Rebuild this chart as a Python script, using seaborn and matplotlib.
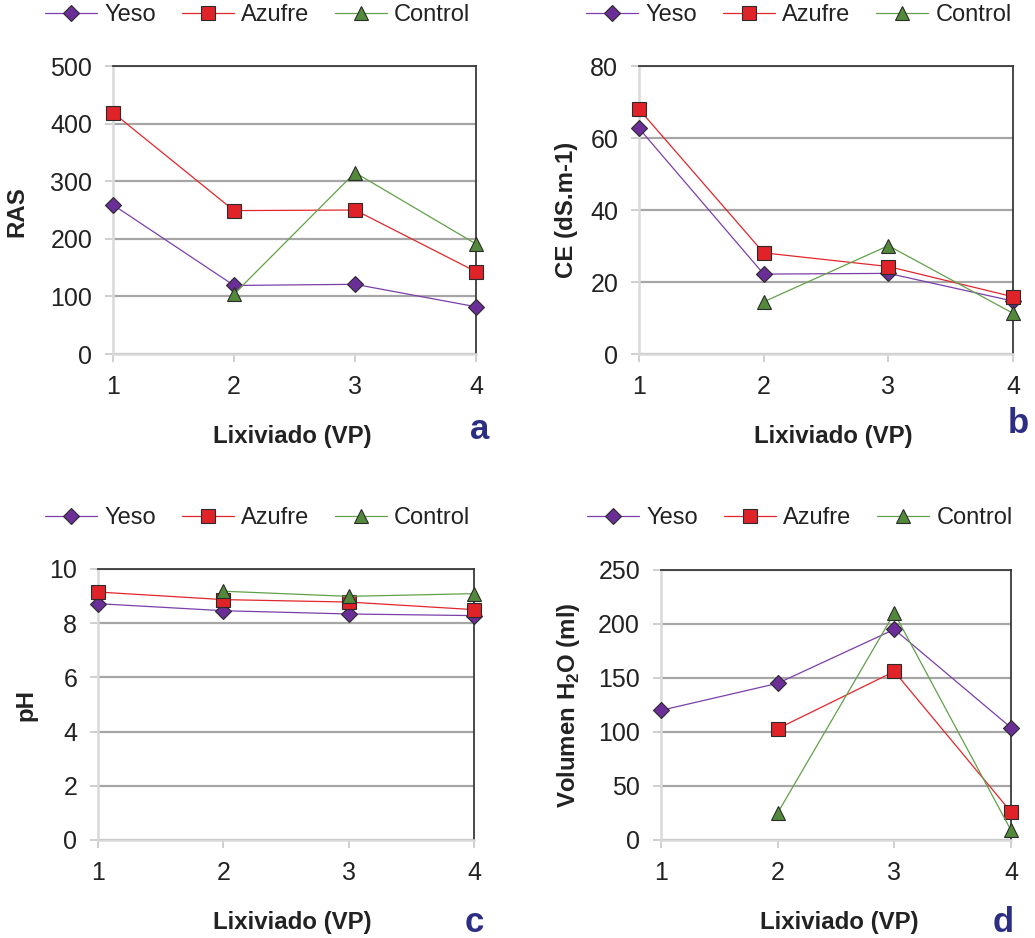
import numpy as np
import pandas as pd
import matplotlib
matplotlib.use('Agg')
import matplotlib.pyplot as plt
import seaborn as sns


# Data
lixiviado = [1, 2, 3, 4]

ras_yeso = [259, 119, 121, 82]
ras_azufre = [419, 249, 250, 143]
ras_control = [np.nan, 104, 315, 191]

ce_yeso = [62.7, 22.2, 22.4, 14.7]
ce_azufre = [68.0, 28.1, 24.3, 15.9]
ce_control = [np.nan, 14.5, 30.1, 11.3]

ph_yeso = [8.72, 8.46, 8.34, 8.28]
ph_azufre = [9.15, 8.87, 8.78, 8.50]
ph_control = [np.nan, 9.18, 8.99, 9.09]

vol_yeso = [120, 145, 195, 104]
vol_azufre = [np.nan, 103, 156, 26]
vol_control = [np.nan, 25, 210, 9]

series_names = ['Yeso', 'Azufre', 'Control']

sns.set_style('white')
plt.rcParams['font.family'] = ['Liberation Sans', 'DejaVu Sans']
plt.rcParams['mathtext.fontset'] = 'custom'
plt.rcParams['mathtext.rm'] = 'Liberation Sans'
plt.rcParams['mathtext.bf'] = 'Liberation Sans:bold'

line_col = {'Yeso': '#7b3fab', 'Azufre': '#e3262b', 'Control': '#62a04a'}
face_col = {'Yeso': '#6a2e96', 'Azufre': '#df2329', 'Control': '#53893b'}
mark = {'Yeso': 'D', 'Azufre': 's', 'Control': '^'}
msize = {'Yeso': 8.3, 'Azufre': 9.5, 'Control': 10.5}

fig = plt.figure(figsize=(10.35, 9.38), dpi=100)

panels = [
    # data, ylabel, yticks, axes rect, xlabel pos, ylabel pos, legend center, letter
    ([ras_yeso, ras_azufre, ras_control], 'RAS', [0, 100, 200, 300, 400, 500],
     [0.1092, 0.6226, 0.3507, 0.307], (0.493, -0.247), (-0.234, 0.493), (0.249, 0.984), ('a', 0.4638, 0.532)),
    ([ce_yeso, ce_azufre, ce_control], 'CE (dS.m-1)', [0, 20, 40, 60, 80],
     [0.6174, 0.6226, 0.3614, 0.307], (0.52, -0.247), (-0.163, 0.5), (0.772, 0.984), ('b', 0.9836, 0.5384)),
    ([ph_yeso, ph_azufre, ph_control], 'pH', [0, 2, 4, 6, 8, 10],
     [0.0947, 0.1045, 0.3633, 0.2889], (0.516, -0.262), (-0.162, 0.498), (0.249, 0.448), ('c', 0.458, 0.0064)),
    ([vol_yeso, vol_azufre, vol_control], r'Volumen H$_\mathbf{2}$O (ml)', [0, 50, 100, 150, 200, 250],
     [0.6386, 0.1045, 0.3382, 0.2879], (0.509, -0.262), (-0.226, 0.5), (0.773, 0.448), ('d', 0.969, 0.0064)),
]

for vals, ylab, yt, rect, xl_pos, yl_pos, leg_pos, letter in panels:
    ax = fig.add_axes(rect)
    df = pd.DataFrame({'x': lixiviado})
    for name, v in zip(series_names, vals):
        df[name] = v
    for name in series_names:
        sns.lineplot(data=df, x='x', y=name, ax=ax, label=name,
                     color=line_col[name], lw=0.9, marker=mark[name],
                     markersize=msize[name], markerfacecolor=face_col[name],
                     markeredgecolor='#2b2b2b', markeredgewidth=0.8,
                     clip_on=False, zorder=5)

    ax.set_xlim(1, 4)
    ax.set_ylim(yt[0], yt[-1])
    ax.set_xticks(lixiviado)
    ax.set_yticks(yt)
    ax.tick_params(axis='both', labelsize=18, colors='#cccccc', labelcolor='#222222',
                   length=6, width=1.3, direction='out', pad=9,
                   bottom=True, left=True)
    ax.yaxis.grid(True, color='#a6a6a6', lw=1.6)
    ax.set_axisbelow(True)
    for s in ['left', 'bottom']:
        ax.spines[s].set_color('#d9d9d9')
        ax.spines[s].set_linewidth(1.8)
    for s in ['top', 'right']:
        ax.spines[s].set_color('#3a3a3a')
        ax.spines[s].set_linewidth(1.3)

    ax.set_xlabel('Lixiviado (VP)', fontsize=17.3, fontweight='bold', color='#222222')
    ax.set_ylabel(ylab, fontsize=17.3, fontweight='bold', color='#222222')
    ax.xaxis.set_label_coords(*xl_pos)
    ax.yaxis.set_label_coords(*yl_pos)

    ax.legend(loc='center', bbox_to_anchor=leg_pos, bbox_transform=fig.transFigure,
              ncol=3, frameon=False, fontsize=17, handlelength=2.2,
              handletextpad=0.3, columnspacing=1.1, labelcolor='#222222')

    fig.text(letter[1], letter[2], letter[0], ha='center', va='baseline',
             fontsize=25, fontweight='bold', color='#2b2e83')

plt.savefig('out.png', dpi=100)
